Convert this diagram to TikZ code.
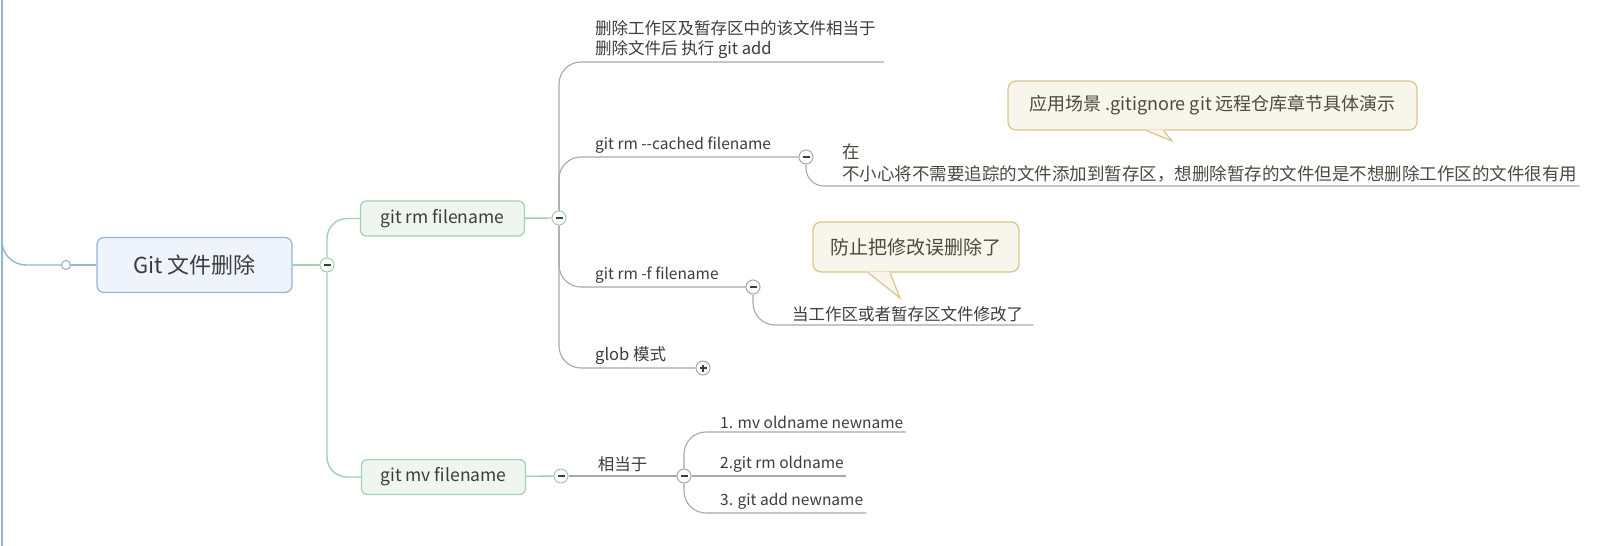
\documentclass[tikz,border=0pt]{standalone}
\usepackage{fontspec}
\setmainfont{Noto Sans CJK SC}
\usepackage{tikz}
\usetikzlibrary{positioning}

\definecolor{mapblue}{HTML}{98B2D9}
\definecolor{rootfill}{HTML}{EEF3FC}
\definecolor{mapgreen}{HTML}{A3D0AF}
\definecolor{subfill}{HTML}{EFF6F1}
\definecolor{mapgrey}{HTML}{A8A8A8}
\definecolor{txt}{HTML}{3C3C3C}
\definecolor{notefill}{HTML}{F8F5EC}
\definecolor{notedraw}{HTML}{D9C58E}
\definecolor{notetxt}{HTML}{4A4A40}

\begin{document}
\begin{tikzpicture}[x=1pt, y=-1pt,
  every node/.style={text=txt},
  blueline/.style={draw=mapblue, line width=1.4pt},
  greenline/.style={draw=mapgreen, line width=1.4pt, rounded corners=20pt},
  greyline/.style={draw=mapgrey, line width=1.1pt, rounded corners=22pt},
  rootbox/.style={draw=mapblue, fill=rootfill, line width=1.2pt, rounded corners=7pt,
    minimum width=195pt, minimum height=55pt, font=\fontsize{22}{26}\selectfont},
  subbox/.style={draw=mapgreen, fill=subfill, line width=1.2pt, rounded corners=6pt,
    minimum width=164pt, minimum height=35pt, font=\fontsize{17.5}{22}\selectfont},
  leaf/.style={anchor=south west, inner xsep=0pt, inner ysep=3pt, align=left,
    font=\fontsize{16.5}{20}\selectfont},
  latinleaf/.style={leaf, font=\fontsize{15.5}{20}\selectfont},
  fold/.style={circle, draw=#1, fill=white, line width=1pt, minimum size=14pt, inner sep=0pt,
    path picture={\draw[txt, line width=1.3pt] (path picture bounding box.center) ++(-3.5pt,0pt) -- ++(7pt,0pt);}},
  unfold/.style={fold=#1,
    path picture={\draw[txt, line width=1.2pt] (path picture bounding box.center) ++(-3.5pt,0pt) -- ++(7pt,0pt)
      (path picture bounding box.center) ++(0pt,-3.5pt) -- ++(0pt,7pt);}},
  note/.style={draw=notedraw, fill=notefill, line width=1.2pt, rounded corners=8pt,
    text=notetxt, inner sep=0pt},
]
\useasboundingbox[fill=white] (0,0) rectangle (1612,546);

% main topic
\coordinate (mapTop) at (2,0);
\coordinate (mapBot) at (2,546);
\node[circle, draw=mapblue, fill=white, line width=1.1pt, minimum size=9pt, inner sep=0pt] (cRoot) at (66,265) {};
\node[rootbox] (root) at (194.5,265) {Git 文件删除};
\node[fold=mapgreen] (cGit) at (327,265) {};

% git rm / git mv
\node[subbox] (rm) at (442.5,218.5) {git rm filename};
\node[subbox] (mv) at (443.5,477) {git mv filename};
\node[fold=mapgreen] (cRm) at (559,218) {};
\node[fold=mapgreen] (cMv) at (561,476) {};

% children of git rm
\node[leaf] (tDel) at (595,62) {删除工作区及暂存区中的该文件相当于\\删除文件后 执行 git add};
\node[latinleaf] (tCached) at (595,157) {git rm -{}-cached filename};
\node[fold=mapgrey] (cCached) at (806,157) {};
\node[leaf, font=\fontsize{17.5}{22}\selectfont, text=notetxt] (tUse) at (842,186)
  {在\\不小心将不需要追踪的文件添加到暂存区，想删除暂存的文件但是不想删除工作区的文件很有用};
\node[latinleaf] (tForce) at (595,287) {git rm -f filename};
\node[fold=mapgrey] (cForce) at (753,287) {};
\node[leaf] (tMod) at (792,325) {当工作区或者暂存区文件修改了};
\node[leaf] (tGlob) at (595,368) {glob 模式};
\node[unfold=mapgrey] (cGlob) at (703,368) {};

% children of git mv
\node[fold=mapgrey] (cEq) at (684,476) {};
\node[latinleaf] (t1) at (720,432) {1. mv oldname newname};
\node[latinleaf] (t2) at (720,476) {2.git rm oldname};
\node[latinleaf] (t3) at (720,513) {3. git add newname};

% connectors
\draw[blueline] (mapTop) -- (mapBot);
\draw[blueline, rounded corners=24pt] (mapTop) |- (cRoot.west);
\draw[blueline] (cRoot) -- (root);
\draw[greenline] (root) -- (cGit);
\draw[greenline] (cGit.north) |- (rm.west);
\draw[greenline] (cGit.south) |- (mv.west);
\draw[greenline] (rm) -- (cRm);
\draw[greenline] (mv) -- (cMv);
\draw[greyline] (cRm.north) |- ([xshift=8pt]tDel.south east);
\draw[greyline] (cRm.north) |- (cCached.west);
\draw[greyline] (cRm.south) |- (cForce.west);
\draw[greyline] (cRm.south) |- (cGlob.west);
\draw[greyline, rounded corners=18pt] (cCached.south) |- ([xshift=2pt]tUse.south east);
\draw[greyline] (cForce.south) |- ([xshift=10pt]tMod.south east);
\draw[greyline] (cMv) -- node[above, inner sep=4pt, font=\fontsize{16.5}{20}\selectfont] (eq) {相当于} (cEq);
\draw[greyline] (cEq.north) |- ([xshift=2pt]t1.south east);
\draw[greyline] (cEq) -- ([xshift=2pt]t2.south east);
\draw[greyline] (cEq.south) |- ([xshift=3pt]t3.south east);

% callouts
\node[note, minimum width=409pt, minimum height=49pt, font=\fontsize{18}{22}\selectfont] (n1) at (1212.5,105.5)
  {应用场景 .gitignore git 远程仓库章节具体演示};
\coordinate (n1tip) at (1172,141);
\fill[notefill] ([xshift=-66pt,yshift=1pt]n1.south) -- (n1tip) -- ([xshift=-49pt,yshift=1pt]n1.south) -- cycle;
\draw[notedraw, line width=1.2pt] ([xshift=-66pt]n1.south) -- (n1tip) -- ([xshift=-49pt]n1.south);

\node[note, minimum width=206pt, minimum height=50pt, font=\fontsize{19}{23}\selectfont] (n2) at (916,247)
  {防止把修改误删除了};
\coordinate (n2tip) at (900,298);
\fill[notefill] ([xshift=-48pt,yshift=1pt]n2.south) -- (n2tip) -- ([xshift=-26pt,yshift=1pt]n2.south) -- cycle;
\draw[notedraw, line width=1.2pt] ([xshift=-48pt]n2.south) -- (n2tip) -- ([xshift=-26pt]n2.south);
\end{tikzpicture}
\end{document}
